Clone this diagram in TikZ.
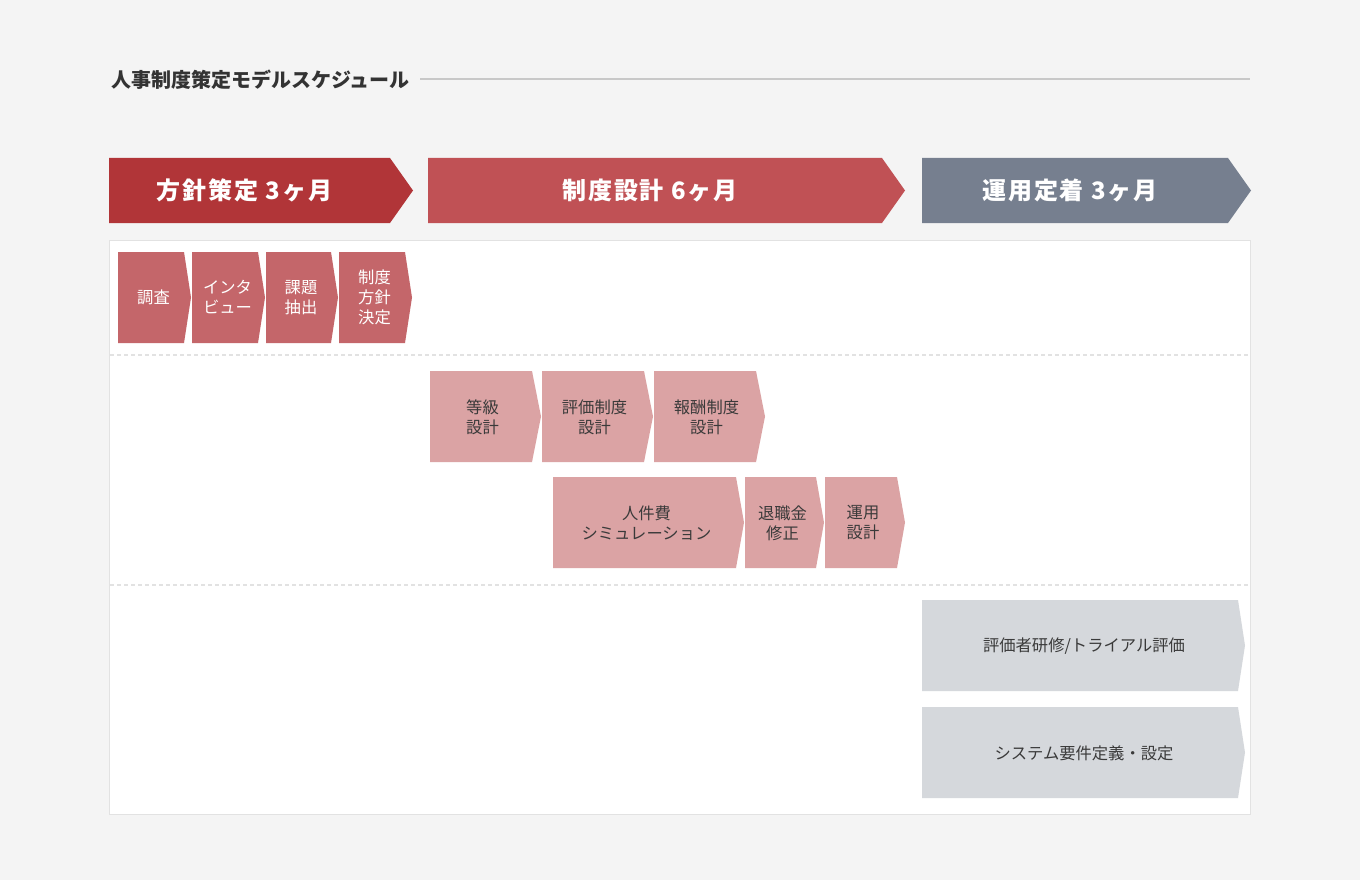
\documentclass[tikz,border=0pt]{standalone}
\usepackage{fontspec}
\setmainfont{Noto Sans CJK JP}
\definecolor{bgcol}{HTML}{F4F4F4}
\definecolor{titlecol}{HTML}{333333}
\definecolor{rulecol}{HTML}{C8C8C8}
\definecolor{panelcol}{HTML}{E2E2E2}
\definecolor{hdrA}{HTML}{B13538}
\definecolor{hdrB}{HTML}{C05155}
\definecolor{hdrC}{HTML}{767F8F}
\definecolor{stepA}{HTML}{C4666A}
\definecolor{stepB}{HTML}{DBA3A4}
\definecolor{stepC}{HTML}{D5D8DC}
\definecolor{txtgray}{HTML}{3A3A3A}

\begin{document}
\begin{tikzpicture}[x=1pt,y=-1pt,
		hdrtext/.style={font=\fontsize{24}{24}\selectfont\bfseries\addfontfeature{LetterSpace=8}, text=white, inner sep=0},
		steptext/.style={font=\fontsize{16.3}{20}\selectfont, align=center, text=txtgray, inner sep=0}]
		\fill[bgcol] (0,0) rectangle (1360,880);
		\node[anchor=west, font=\fontsize{20}{20}\selectfont\bfseries, text=titlecol, inner sep=0] (title) at (111,80) {人事制度策定モデルスケジュール};
		\coordinate (ruleend) at (1250,79);
		\draw[rulecol, line width=1.3pt] ([xshift=10pt,yshift=1pt]title.east) -- (ruleend);
		\foreach \a/\b/\c/\t [count=\i] in {109/413/hdrA/{方針策定 3ヶ月}, 428/905/hdrB/{制度設計 6ヶ月}, 922/1251/hdrC/{運用定着 3ヶ月}} {
			\fill[\c] (\a,158) -- (\b-23,158) -- (\b,190.5) -- (\b-23,223) -- (\a,223) -- cycle;
			\node[hdrtext] (phase\i) at ({(\a+\b-23)/2-5},190.5) {\t};
		}
		\draw[panelcol, fill=white, line width=1.2pt] (109.5,240.5) rectangle (1250.5,814.5);
		\draw[panelcol, line width=1.5pt, dash pattern=on 4pt off 3pt] (110,355) -- (1250,355);
		\draw[panelcol, line width=1.5pt, dash pattern=on 4pt off 3pt] (110,585) -- (1250,585);
		\foreach \a/\b/\t [count=\i] in {118/191/調査, 192/265/{インタ\\ビュー}, 266/338/{課題\\抽出}, 339/412/{制度\\方針\\決定}} {
			\fill[stepA] (\a,252) -- (\b-7,252) -- (\b,297.5) -- (\b-7,343) -- (\a,343) -- cycle;
			\node[steptext, text=white] (plan\i) at ({(\a+\b)/2-1},297.5) {\t};
		}
		\foreach \a/\b/\t [count=\i] in {430/541/{等級\\設計}, 542/653/{評価制度\\設計}, 654/765/{報酬制度\\設計}} {
			\fill[stepB] (\a,371) -- (\b-9,371) -- (\b,416.5) -- (\b-9,462) -- (\a,462) -- cycle;
			\node[steptext] (design\i) at ({(\a+\b)/2-3},417) {\t};
		}
		\foreach \a/\b/\t [count=\i] in {553/744/{人件費\\シミュレーション}, 745/824/{退職金\\修正}, 825/905/{運用\\設計}} {
			\fill[stepB] (\a,477) -- (\b-8,477) -- (\b,522.5) -- (\b-8,568) -- (\a,568) -- cycle;
			\node[steptext] (sim\i) at ({(\a+\b)/2-2},523) {\t};
		}
		\foreach \y/\t [count=\i] in {600/{評価者研修/トライアル評価}, 707/{システム要件定義・設定}} {
			\fill[stepC] (922,\y) -- (1238,\y) -- (1245,\y+45.5) -- (1238,\y+91) -- (922,\y+91) -- cycle;
			\node[steptext] (run\i) at (1084,\y+46) {\t};
		}
	\end{tikzpicture}
\end{document}
